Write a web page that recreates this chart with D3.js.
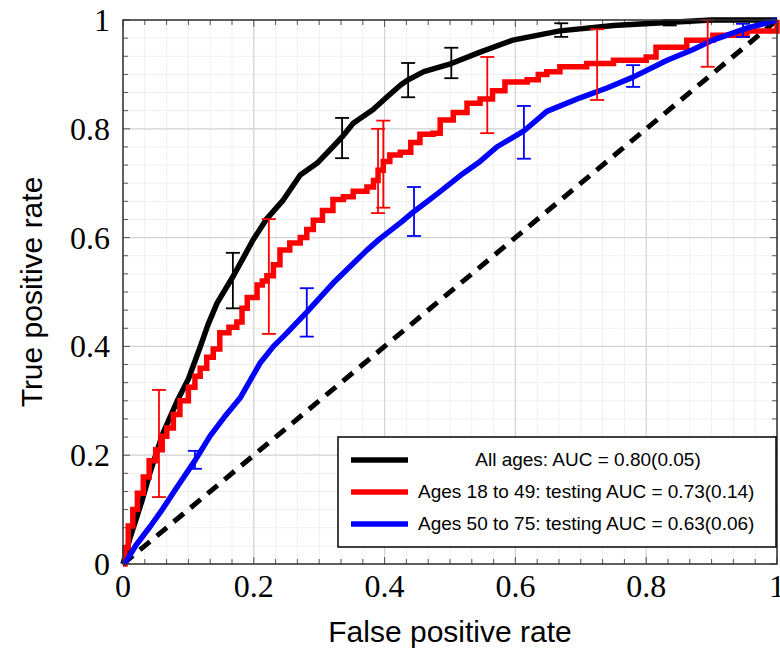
<!DOCTYPE html>
<html>
<head>
<meta charset="utf-8">
<script src="https://cdn.jsdelivr.net/npm/d3@7"></script>
<style>
  body { margin: 0; background: #fff; }
</style>
</head>
<body>
<script>
// ROC curves: [fpr, tpr]
var allAges = [[0,0],[0.003,0.013],[0.01,0.045],[0.021,0.086],[0.03,0.12],[0.041,0.167],[0.05,0.2],
  [0.061,0.24],[0.072,0.27],[0.083,0.3],[0.1,0.34],[0.118,0.399],[0.13,0.44],[0.144,0.48],[0.168,0.528],
  [0.185,0.565],[0.199,0.596],[0.22,0.635],[0.245,0.669],[0.271,0.715],[0.297,0.737],[0.321,0.767],
  [0.335,0.785],[0.352,0.81],[0.382,0.835],[0.404,0.859],[0.424,0.88],[0.436,0.89],[0.46,0.905],
  [0.502,0.92],[0.546,0.941],[0.596,0.963],[0.668,0.98],[0.75,0.99],[0.852,0.997],[0.9,1],[1,1]];

var ages18to49 = [[0,0],[0.003,0.03],[0.008,0.07],[0.015,0.1],[0.022,0.13],[0.031,0.16],[0.04,0.19],
  [0.05,0.21],[0.06,0.235],[0.067,0.25],[0.077,0.275],[0.087,0.3],[0.1,0.325],[0.11,0.345],[0.118,0.36],
  [0.128,0.38],[0.138,0.395],[0.148,0.425],[0.162,0.435],[0.174,0.445],[0.182,0.47],[0.19,0.49],
  [0.205,0.513],[0.213,0.52],[0.22,0.53],[0.23,0.55],[0.24,0.577],[0.255,0.59],[0.271,0.6],[0.281,0.615],
  [0.291,0.632],[0.305,0.65],[0.321,0.67],[0.337,0.675],[0.352,0.685],[0.373,0.693],[0.383,0.705],
  [0.39,0.724],[0.398,0.74],[0.408,0.752],[0.424,0.757],[0.44,0.775],[0.454,0.79],[0.474,0.792],
  [0.485,0.816],[0.505,0.83],[0.526,0.847],[0.546,0.855],[0.565,0.87],[0.584,0.886],[0.618,0.89],
  [0.635,0.9],[0.648,0.905],[0.668,0.914],[0.709,0.92],[0.75,0.926],[0.8,0.932],[0.815,0.95],
  [0.862,0.963],[0.902,0.972],[0.954,0.98],[1,0.995],[1,1]];

var ages50to75 = [[0,0],[0.006,0.007],[0.02,0.035],[0.041,0.068],[0.06,0.1],[0.083,0.142],[0.11,0.19],
  [0.133,0.235],[0.155,0.27],[0.179,0.305],[0.21,0.37],[0.23,0.4],[0.25,0.424],[0.281,0.463],
  [0.321,0.516],[0.35,0.55],[0.373,0.577],[0.393,0.598],[0.424,0.627],[0.445,0.648],[0.48,0.68],
  [0.52,0.718],[0.546,0.74],[0.572,0.767],[0.613,0.796],[0.648,0.832],[0.699,0.857],[0.74,0.875],
  [0.78,0.895],[0.832,0.926],[0.87,0.945],[0.902,0.963],[0.954,0.985],[1,1]];

// error bars: [fpr, low, high]
var errAll = [[0.168,0.47,0.572],[0.335,0.746,0.82],[0.436,0.858,0.921],[0.502,0.893,0.949],
  [0.67,0.969,0.994],[0.836,0.99,1.0]];
var err18 = [[0.055,0.123,0.32],[0.223,0.423,0.634],[0.39,0.645,0.8],[0.398,0.655,0.815],
  [0.557,0.792,0.932],[0.725,0.853,0.983],[0.894,0.914,1.0]];
var err50 = [[0.11,0.175,0.208],[0.281,0.418,0.507],[0.445,0.603,0.693],[0.613,0.745,0.842],
  [0.78,0.877,0.917],[0.948,0.969,0.993]];

var legendLabels = ['All ages: AUC = 0.80(0.05)',
  'Ages 18 to 49: testing AUC = 0.73(0.14)',
  'Ages 50 to 75: testing AUC = 0.63(0.06)'];
var colors = ['#000000', '#ff0000', '#0000ff'];
var majorTicks = [0, 0.2, 0.4, 0.6, 0.8, 1];
var tickText = ['0', '0.2', '0.4', '0.6', '0.8', '1'];

var W = 780, H = 649;
var pLeft = 123, pRight = 777, pTop = 20, pBottom = 564;

var svg = d3.select('body')
  .append('svg')
  .attr('width', W)
  .attr('height', H);

var x = d3.scaleLinear().domain([0, 1]).range([pLeft, pRight]);
var y = d3.scaleLinear().domain([0, 1]).range([pBottom, pTop]);

var minor = d3.range(0, 31).map(function(i) { return i / 30; });

// minor grid
svg.append('g').selectAll('line')
  .data(minor)
  .enter().append('line')
  .attr('x1', function(d) { return x(d); })
  .attr('x2', function(d) { return x(d); })
  .attr('y1', pTop).attr('y2', pBottom)
  .attr('stroke', '#f0f0f0').attr('stroke-width', 1);
svg.append('g').selectAll('line')
  .data(minor)
  .enter().append('line')
  .attr('y1', function(d) { return y(d); })
  .attr('y2', function(d) { return y(d); })
  .attr('x1', pLeft).attr('x2', pRight)
  .attr('stroke', '#f0f0f0').attr('stroke-width', 1);

// major grid
svg.append('g').selectAll('line')
  .data(majorTicks)
  .enter().append('line')
  .attr('x1', function(d) { return x(d); })
  .attr('x2', function(d) { return x(d); })
  .attr('y1', pTop).attr('y2', pBottom)
  .attr('stroke', '#d4d4d4').attr('stroke-width', 1.2);
svg.append('g').selectAll('line')
  .data(majorTicks)
  .enter().append('line')
  .attr('y1', function(d) { return y(d); })
  .attr('y2', function(d) { return y(d); })
  .attr('x1', pLeft).attr('x2', pRight)
  .attr('stroke', '#d4d4d4').attr('stroke-width', 1.2);

// inward ticks on all four sides
function isMajor(d) { return Math.abs(d * 5 - Math.round(d * 5)) < 1e-6; }
var tk = svg.append('g').attr('stroke', '#555').attr('stroke-width', 1);
minor.forEach(function(d) {
  var len = isMajor(d) ? 7 : 5;
  tk.append('line').attr('x1', x(d)).attr('x2', x(d)).attr('y1', pBottom).attr('y2', pBottom - len);
  tk.append('line').attr('x1', x(d)).attr('x2', x(d)).attr('y1', pTop).attr('y2', pTop + len);
  tk.append('line').attr('y1', y(d)).attr('y2', y(d)).attr('x1', pLeft).attr('x2', pLeft + len);
  tk.append('line').attr('y1', y(d)).attr('y2', y(d)).attr('x1', pRight).attr('x2', pRight - len);
});

// chance diagonal
svg.append('line')
  .attr('x1', x(0)).attr('y1', y(0))
  .attr('x2', x(1)).attr('y2', y(1))
  .attr('stroke', '#000')
  .attr('stroke-width', 5)
  .attr('stroke-dasharray', '13,9');

// curves
var smooth = d3.line()
  .x(function(d) { return x(d[0]); })
  .y(function(d) { return y(d[1]); });
var stepped = d3.line()
  .x(function(d) { return x(d[0]); })
  .y(function(d) { return y(d[1]); })
  .curve(d3.curveStepAfter);

svg.append('path').datum(allAges)
  .attr('d', smooth).attr('fill', 'none')
  .attr('stroke', colors[0]).attr('stroke-width', 5.5).attr('stroke-linejoin', 'round');
svg.append('path').datum(ages18to49)
  .attr('d', stepped).attr('fill', 'none')
  .attr('stroke', colors[1]).attr('stroke-width', 5.5);
svg.append('path').datum(ages50to75)
  .attr('d', smooth).attr('fill', 'none')
  .attr('stroke', colors[2]).attr('stroke-width', 5.5).attr('stroke-linejoin', 'round');

// error bars
function errorBars(data, color) {
  var g = svg.append('g').attr('stroke', color).attr('stroke-width', 1.8);
  g.selectAll('line.v').data(data).enter().append('line')
    .attr('x1', function(d) { return x(d[0]); })
    .attr('x2', function(d) { return x(d[0]); })
    .attr('y1', function(d) { return y(d[1]); })
    .attr('y2', function(d) { return y(d[2]); });
  g.selectAll('line.lo').data(data).enter().append('line')
    .attr('x1', function(d) { return x(d[0]) - 7; })
    .attr('x2', function(d) { return x(d[0]) + 7; })
    .attr('y1', function(d) { return y(d[1]); })
    .attr('y2', function(d) { return y(d[1]); });
  g.selectAll('line.hi').data(data).enter().append('line')
    .attr('x1', function(d) { return x(d[0]) - 7; })
    .attr('x2', function(d) { return x(d[0]) + 7; })
    .attr('y1', function(d) { return y(d[2]); })
    .attr('y2', function(d) { return y(d[2]); });
}
errorBars(errAll, colors[0]);
errorBars(err18, colors[1]);
errorBars(err50, colors[2]);

// frame
svg.append('rect')
  .attr('x', pLeft).attr('y', pTop)
  .attr('width', pRight - pLeft).attr('height', pBottom - pTop)
  .attr('fill', 'none').attr('stroke', '#333').attr('stroke-width', 1.5);

// tick labels
svg.selectAll('text.xt')
  .data(majorTicks)
  .enter().append('text')
  .attr('x', function(d) { return x(d); })
  .attr('y', 597)
  .attr('text-anchor', 'middle')
  .attr('font-family', 'Liberation Serif, serif')
  .attr('font-size', 32)
  .text(function(d, i) { return tickText[i]; });
svg.selectAll('text.yt')
  .data(majorTicks)
  .enter().append('text')
  .attr('x', 110)
  .attr('y', function(d) { return y(d) + 11; })
  .attr('text-anchor', 'end')
  .attr('font-family', 'Liberation Serif, serif')
  .attr('font-size', 32)
  .text(function(d, i) { return tickText[i]; });

// axis titles
svg.append('text')
  .attr('x', (pLeft + pRight) / 2)
  .attr('y', 642)
  .attr('text-anchor', 'middle')
  .attr('font-family', 'Liberation Sans, Arial, sans-serif')
  .attr('font-size', 30)
  .text('False positive rate');
svg.append('text')
  .attr('transform', 'translate(42,' + (pTop + pBottom) / 2 + ') rotate(-90)')
  .attr('text-anchor', 'middle')
  .attr('font-family', 'Liberation Sans, Arial, sans-serif')
  .attr('font-size', 30)
  .text('True positive rate');

// legend
var lg = svg.append('g');
lg.append('rect')
  .attr('x', 338).attr('y', 437)
  .attr('width', 438).attr('height', 110)
  .attr('fill', '#fff').attr('stroke', '#000').attr('stroke-width', 1.5);
legendLabels.forEach(function(t, i) {
  var ly = 460 + i * 32;
  lg.append('line')
    .attr('x1', 351).attr('x2', 408)
    .attr('y1', ly).attr('y2', ly)
    .attr('stroke', colors[i]).attr('stroke-width', 5.5);
  lg.append('text')
    .attr('x', i === 0 ? 588 : 418)
    .attr('y', ly + 6)
    .attr('text-anchor', i === 0 ? 'middle' : 'start')
    .attr('font-family', 'Liberation Sans, Arial, sans-serif')
    .attr('font-size', 19)
    .text(t);
});
</script>
</body>
</html>
